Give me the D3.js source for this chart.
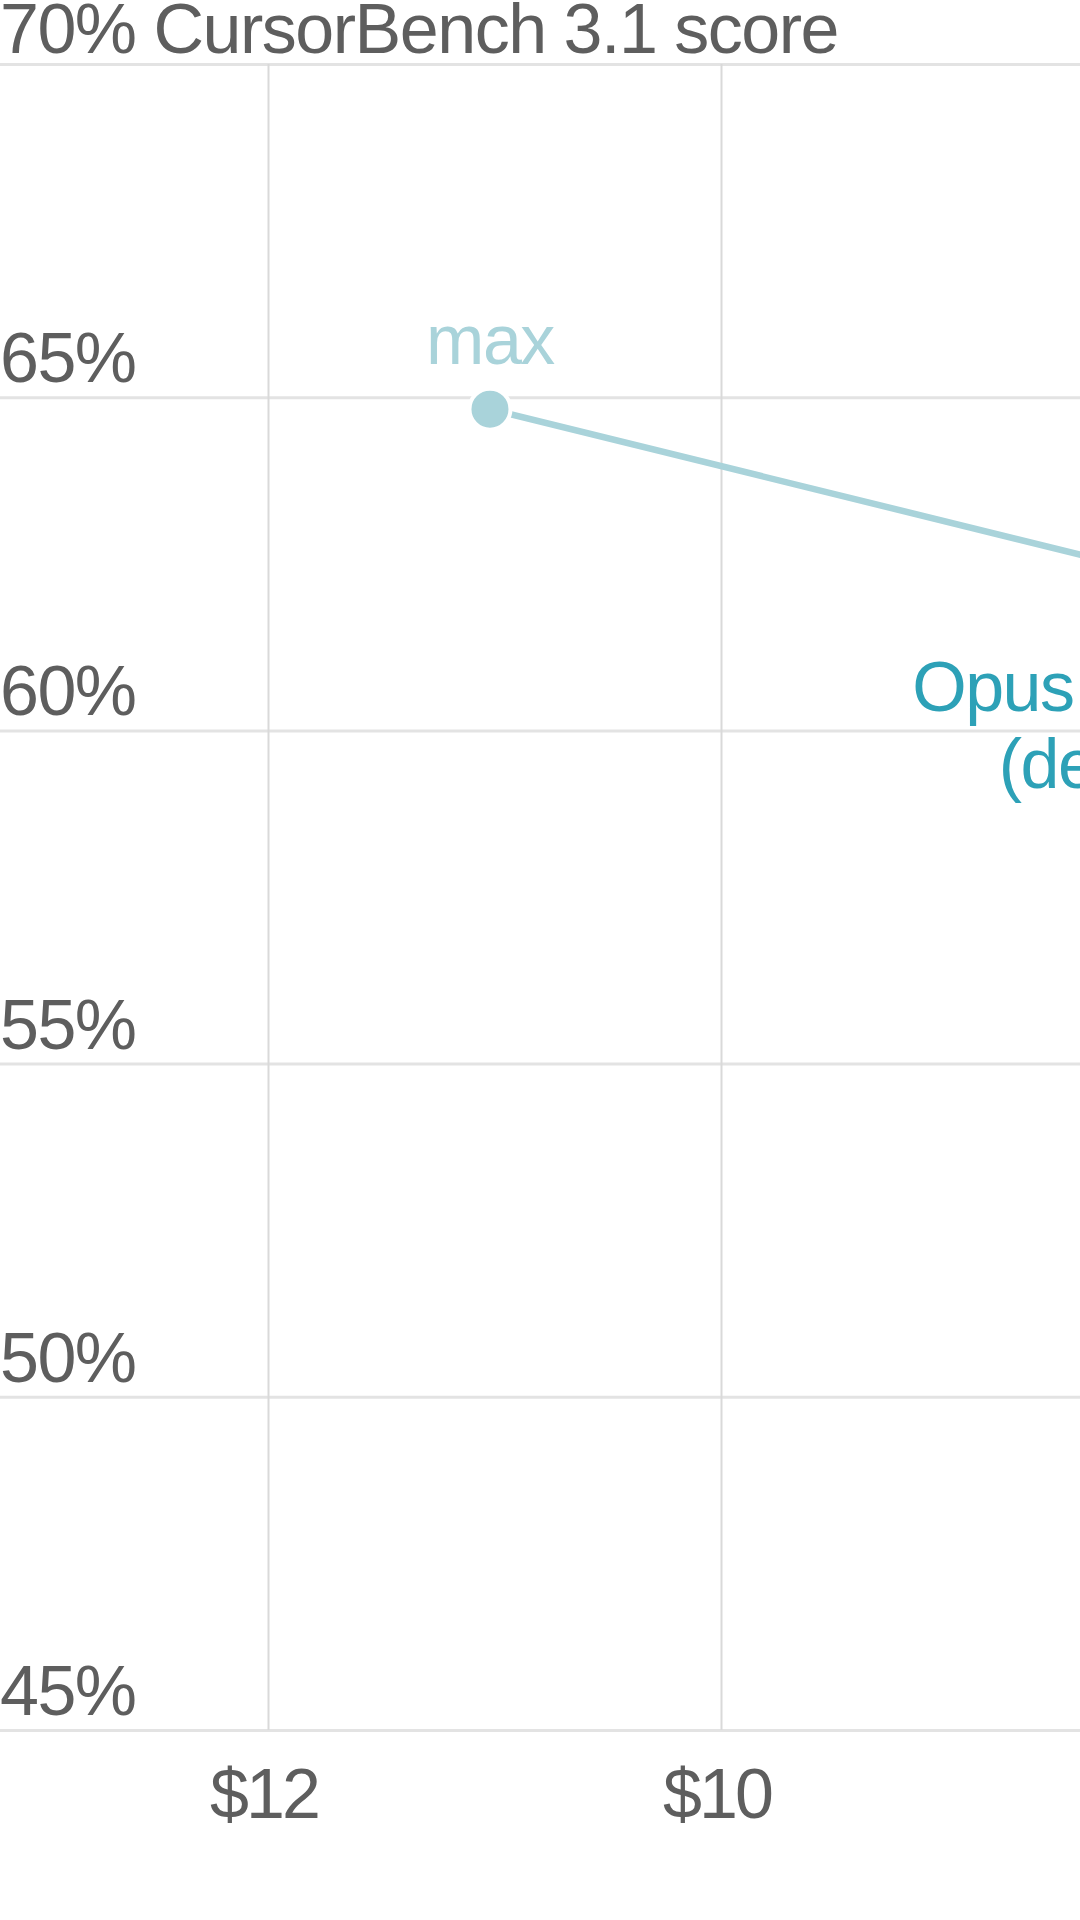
<!DOCTYPE html>
<html>
<head>
<meta charset="utf-8">
<script src="https://cdn.jsdelivr.net/npm/d3@7"></script>
<style>
  html, body { margin: 0; padding: 0; background: #fff; }
  svg { display: block; }
  text { font-family: "Liberation Sans", Arial, sans-serif; letter-spacing: -1.5px; }
</style>
</head>
<body>
<svg id="chart"></svg>
<script>
// chart values
var yTicks = [45, 50, 55, 60, 65, 70];
var xTicks = [12, 10];
var efforts = ["max", "high"];
var costs  = [11.02, 8.25];      // $ per task
var scores = [64.82, 62.5];      // CursorBench 3.1 score, %
var pointLabels = [["max"], ["Opus 4.7 high", "(default)"]];
var yTitle = "CursorBench 3.1 score";

var W = 1080, H = 1920;
var svg = d3.select("#chart").attr("width", W).attr("height", H);

// scales (x runs from expensive to cheap, left to right)
var x = d3.scaleLinear().domain([12, 10]).range([268, 721]);
var y = d3.scaleLinear().domain([45, 70]).range([1730, 64]);

var grey = "#5e5e5e";
var light = "#a9d3da";
var teal = "#2da1b7";
var fs = 70;

// horizontal grid
svg.append("g")
  .call(d3.axisRight(y).tickValues(yTicks).tickSize(W).tickFormat(""))
  .call(function(g) {
    g.select(".domain").remove();
    g.selectAll(".tick line").attr("stroke", "#e3e3e3").attr("stroke-width", 3);
  });

// vertical grid
svg.append("g")
  .attr("transform", "translate(0," + y(70) + ")")
  .call(d3.axisBottom(x).tickValues(xTicks).tickSize(y(45) - y(70)).tickFormat(""))
  .call(function(g) {
    g.select(".domain").remove();
    g.selectAll(".tick line").attr("stroke", "#d9d9d9").attr("stroke-width", 2);
  });

// y labels sit above their grid line, top one carries the title
svg.append("g").selectAll("text")
  .data(yTicks)
  .enter().append("text")
  .attr("x", 0)
  .attr("y", function(d) { return d === 70 ? 53 : y(d) - 15; })
  .attr("font-size", fs)
  .attr("fill", grey)
  .text(function(d) { return d + "%" + (d === 70 ? " " + yTitle : ""); });

// x labels
svg.append("g").selectAll("text")
  .data(xTicks)
  .enter().append("text")
  .attr("x", function(d) { return x(d) - 4; })
  .attr("y", 1818)
  .attr("text-anchor", "middle")
  .attr("font-size", fs)
  .style("letter-spacing", "-3px")
  .attr("fill", grey)
  .text(function(d) { return "$" + d; });

var pts = efforts.map(function(e, i) {
  return { effort: e, cost: costs[i], score: scores[i], label: pointLabels[i] };
});

// connecting line
var line = d3.line()
  .x(function(d) { return x(d.cost); })
  .y(function(d) { return y(d.score); });

svg.append("path")
  .datum(pts)
  .attr("d", line)
  .attr("fill", "none")
  .attr("stroke", light)
  .attr("stroke-width", 6.5);

// dots with a white ring
svg.append("g").selectAll("circle")
  .data(pts)
  .enter().append("circle")
  .attr("cx", function(d) { return x(d.cost); })
  .attr("cy", function(d) { return y(d.score); })
  .attr("r", 20.5)
  .attr("fill", function(d) { return d.effort === "high" ? teal : light; })
  .attr("stroke", "#fff")
  .attr("stroke-width", 4);

// point labels: max above its dot, default below
pts.forEach(function(d) {
  var above = d.effort === "max";
  var t = svg.append("text")
    .attr("text-anchor", "middle")
    .attr("font-size", fs)
    .attr("fill", above ? light : teal);
  d.label.forEach(function(s, i) {
    t.append("tspan")
      .attr("x", x(d.cost) + (above ? 0 : 3))
      .attr("y", y(d.score) + (above ? -45 : 147 + i * 77))
      .text(s);
  });
});
</script>
</body>
</html>
